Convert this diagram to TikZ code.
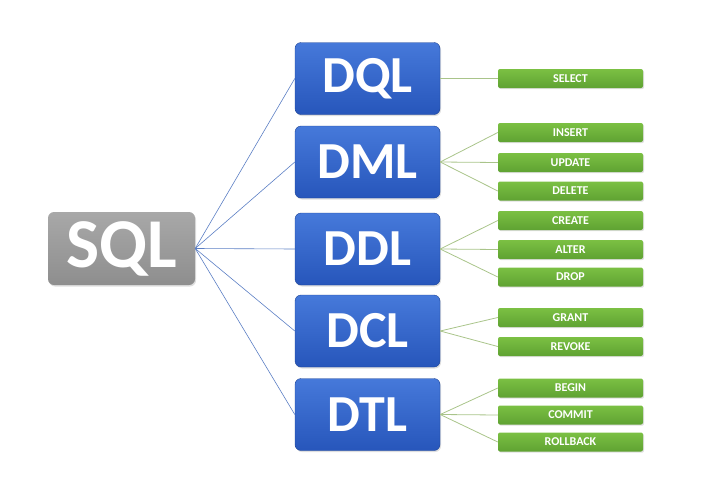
\documentclass[tikz,border=0pt]{standalone}
\usepackage{fontspec}
\setmainfont{Carlito}
\usetikzlibrary{shadows}
\definecolor{bluetop}{HTML}{4679DA}
\definecolor{bluebot}{HTML}{2756BB}
\definecolor{grytop}{HTML}{A8A8A8}
\definecolor{grybot}{HTML}{8E8E8E}
\definecolor{grntop}{HTML}{7BC043}
\definecolor{grnbot}{HTML}{5FA232}
\definecolor{bline}{HTML}{5C7FC4}
\definecolor{gline}{HTML}{A9C48A}
\tikzset{
  sqlbox/.style={rounded corners=6pt, top color=grytop, bottom color=grybot,
    minimum width=147pt, minimum height=73pt, inner sep=0pt,
    text=white, font=\bfseries\fontsize{70}{70}\selectfont,
    drop shadow={opacity=0.25, shadow xshift=1pt, shadow yshift=-1.5pt}},
  langbox/.style={rounded corners=6pt, top color=bluetop, bottom color=bluebot,
    draw=bluebot!80!black, line width=0.4pt,
    minimum width=145pt, minimum height=72pt, inner sep=0pt,
    text=white, font=\bfseries\fontsize{52}{52}\selectfont,
    drop shadow={opacity=0.25, shadow xshift=1pt, shadow yshift=-1.5pt}},
  cmdbox/.style={rounded corners=2pt, top color=grntop, bottom color=grnbot,
    minimum width=145pt, minimum height=19pt, inner sep=0pt,
    text=white, font=\bfseries\fontsize{12}{12}\selectfont,
    drop shadow={opacity=0.25, shadow xshift=1pt, shadow yshift=-1.2pt}},
  bconn/.style={draw=bline, line width=0.6pt},
  gconn/.style={draw=gline, line width=0.8pt}
}
\begin{document}
\begin{tikzpicture}[x=1pt,y=-1pt]
\useasboundingbox (0,0) rectangle (718,485);
\node[sqlbox] (sql) at (121.5,248.5) {SQL};
\node[langbox] (dql) at (367.5,78.5) {DQL};
\node[langbox] (dml) at (367.5,162) {DML};
\node[langbox] (ddl) at (367.5,249) {DDL};
\node[langbox] (dcl) at (367.5,331) {DCL};
\node[langbox] (dtl) at (367.5,414.5) {DTL};
\node[cmdbox] (select) at (570.5,78.5) {SELECT};
\node[cmdbox] (insert) at (570.5,132.5) {INSERT};
\node[cmdbox] (update) at (570.5,162.5) {UPDATE};
\node[cmdbox] (delete) at (570.5,191) {DELETE};
\node[cmdbox] (create) at (570.5,220.5) {CREATE};
\node[cmdbox] (alter) at (570.5,249.5) {ALTER};
\node[cmdbox] (drop) at (570.5,277) {DROP};
\node[cmdbox] (grant) at (570.5,317.5) {GRANT};
\node[cmdbox] (revoke) at (570.5,346.5) {REVOKE};
\node[cmdbox] (begin) at (570.5,388) {BEGIN};
\node[cmdbox] (commit) at (570.5,415) {COMMIT};
\node[cmdbox] (rollback) at (570.5,442) {ROLLBACK};
\foreach \n in {dql,dml,ddl,dcl,dtl} \draw[bconn] (sql.east) -- (\n.west);
\draw[gconn] (dql.east) -- (select.west);
\foreach \n in {insert,update,delete} \draw[gconn] (dml.east) -- (\n.west);
\foreach \n in {create,alter,drop} \draw[gconn] (ddl.east) -- (\n.west);
\foreach \n in {grant,revoke} \draw[gconn] (dcl.east) -- (\n.west);
\foreach \n in {begin,commit,rollback} \draw[gconn] (dtl.east) -- (\n.west);
\end{tikzpicture}
\end{document}
